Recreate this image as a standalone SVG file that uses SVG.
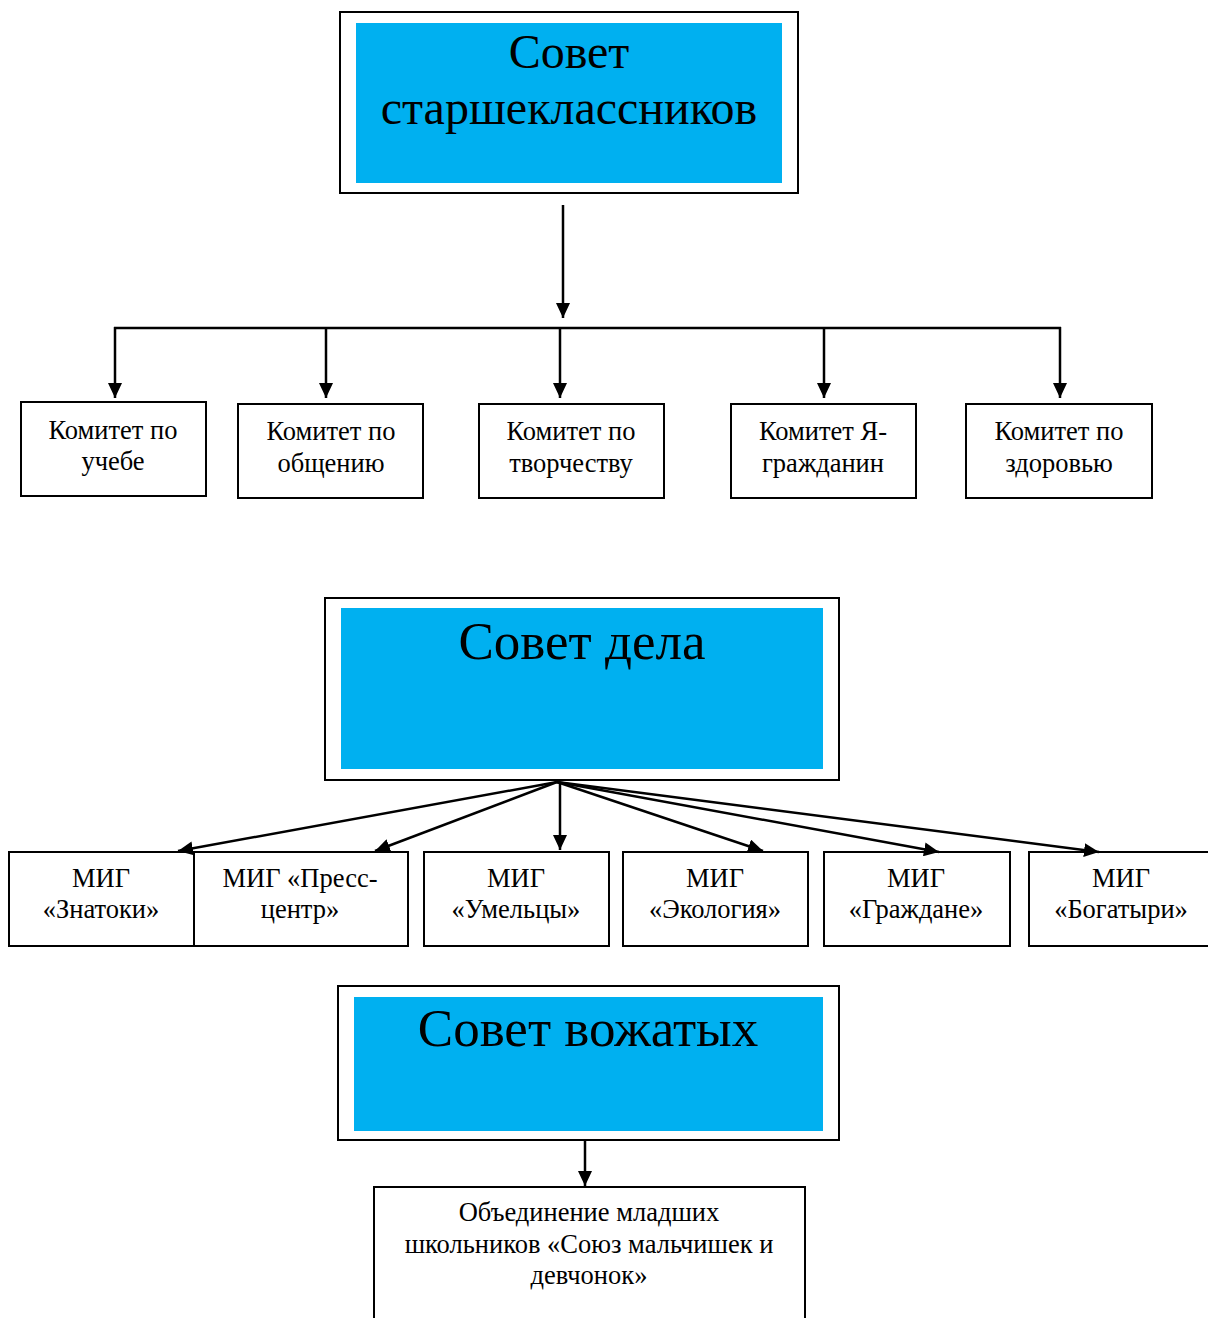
<svg xmlns="http://www.w3.org/2000/svg" width="1208" height="1318" viewBox="0 0 1208 1318">
<style>
.outer{fill:#fff;stroke:#000;stroke-width:2}
.inner{fill:#00b0f0}
.box{fill:#fff;stroke:#000;stroke-width:2}
.big{font-family:"Liberation Serif",serif;font-size:48px;fill:#000;text-anchor:middle}
.big2{font-family:"Liberation Serif",serif;font-size:53px;fill:#000;text-anchor:middle}
.t{font-family:"Liberation Serif",serif;font-size:26.5px;fill:#000;text-anchor:middle}
.c{fill:none;stroke:#000;stroke-width:2.5}
</style>
<defs>
<marker id="ah" viewBox="0 0 15 14" refX="15" refY="7" markerWidth="15" markerHeight="14" markerUnits="userSpaceOnUse" orient="auto">
<path d="M0,0 L15,7 L0,14 Z" fill="#000"/>
</marker>
</defs>
<g id="sovet-star">
<rect class="outer" x="340" y="12" width="458" height="181"/>
<rect class="inner" x="356" y="23" width="426" height="160"/>
<text class="big" x="569" y="68">Совет</text>
<text class="big" x="569" y="124">старшеклассников</text>
</g>
<g id="k1"><rect class="box" x="21" y="402" width="185" height="94"/><text class="t" x="113" y="439">Комитет по</text><text class="t" x="113" y="470">учебе</text></g>
<g id="k2"><rect class="box" x="238" y="404" width="185" height="94"/><text class="t" x="331" y="440">Комитет по</text><text class="t" x="331" y="472">общению</text></g>
<g id="k3"><rect class="box" x="479" y="404" width="185" height="94"/><text class="t" x="571" y="440">Комитет по</text><text class="t" x="571" y="472">творчеству</text></g>
<g id="k4"><rect class="box" x="731" y="404" width="185" height="94"/><text class="t" x="823" y="440">Комитет Я-</text><text class="t" x="823" y="472">гражданин</text></g>
<g id="k5"><rect class="box" x="966" y="404" width="186" height="94"/><text class="t" x="1059" y="440">Комитет по</text><text class="t" x="1059" y="472">здоровью</text></g>
<g id="sovet-dela">
<rect class="outer" x="325" y="598" width="514" height="182"/>
<rect class="inner" x="341" y="608" width="482" height="161"/>
<text class="big2" x="582" y="659">Совет дела</text>
</g>
<g id="m1"><rect class="box" x="9" y="852" width="185" height="94"/><text class="t" x="101" y="887">МИГ</text><text class="t" x="101" y="918">«Знатоки»</text></g>
<g id="m2"><rect class="box" x="194" y="852" width="214" height="94"/><text class="t" x="300" y="887">МИГ «Пресс-</text><text class="t" x="300" y="918">центр»</text></g>
<g id="m3"><rect class="box" x="424" y="852" width="185" height="94"/><text class="t" x="516" y="887">МИГ</text><text class="t" x="516" y="918">«Умельцы»</text></g>
<g id="m4"><rect class="box" x="623" y="852" width="185" height="94"/><text class="t" x="715" y="887">МИГ</text><text class="t" x="715" y="918">«Экология»</text></g>
<g id="m5"><rect class="box" x="824" y="852" width="186" height="94"/><text class="t" x="916" y="887">МИГ</text><text class="t" x="916" y="918">«Граждане»</text></g>
<g id="m6"><rect class="box" x="1029" y="852" width="185" height="94"/><text class="t" x="1121" y="887">МИГ</text><text class="t" x="1121" y="918">«Богатыри»</text></g>
<g id="sovet-vozh">
<rect class="outer" x="338" y="986" width="501" height="154"/>
<rect class="inner" x="354" y="997" width="469" height="134"/>
<text class="big2" x="588" y="1046">Совет вожатых</text>
</g>
<g id="obed">
<rect class="box" x="374" y="1187" width="431" height="140"/>
<text class="t" x="589" y="1221">Объединение младших</text>
<text class="t" x="589" y="1253">школьников «Союз мальчишек и</text>
<text class="t" x="589" y="1284">девчонок»</text>
</g>
<g id="connectors">
<line class="c" x1="563" y1="205" x2="563" y2="318" marker-end="url(#ah)"/>
<line class="c" x1="114" y1="328" x2="1061" y2="328"/>
<line class="c" x1="115" y1="327" x2="115" y2="398" marker-end="url(#ah)"/>
<line class="c" x1="326" y1="327" x2="326" y2="398" marker-end="url(#ah)"/>
<line class="c" x1="560" y1="327" x2="560" y2="398" marker-end="url(#ah)"/>
<line class="c" x1="824" y1="327" x2="824" y2="398" marker-end="url(#ah)"/>
<line class="c" x1="1060" y1="327" x2="1060" y2="398" marker-end="url(#ah)"/>
<line class="c" x1="557" y1="782" x2="178" y2="851" marker-end="url(#ah)"/>
<line class="c" x1="557" y1="782" x2="375" y2="851" marker-end="url(#ah)"/>
<line class="c" x1="560" y1="782" x2="560" y2="850" marker-end="url(#ah)"/>
<line class="c" x1="557" y1="782" x2="763" y2="851" marker-end="url(#ah)"/>
<line class="c" x1="557" y1="782" x2="939" y2="852" marker-end="url(#ah)"/>
<line class="c" x1="557" y1="782" x2="1099" y2="852" marker-end="url(#ah)"/>
<line class="c" x1="585" y1="1140" x2="585" y2="1186" marker-end="url(#ah)"/>
</g>
</svg>
